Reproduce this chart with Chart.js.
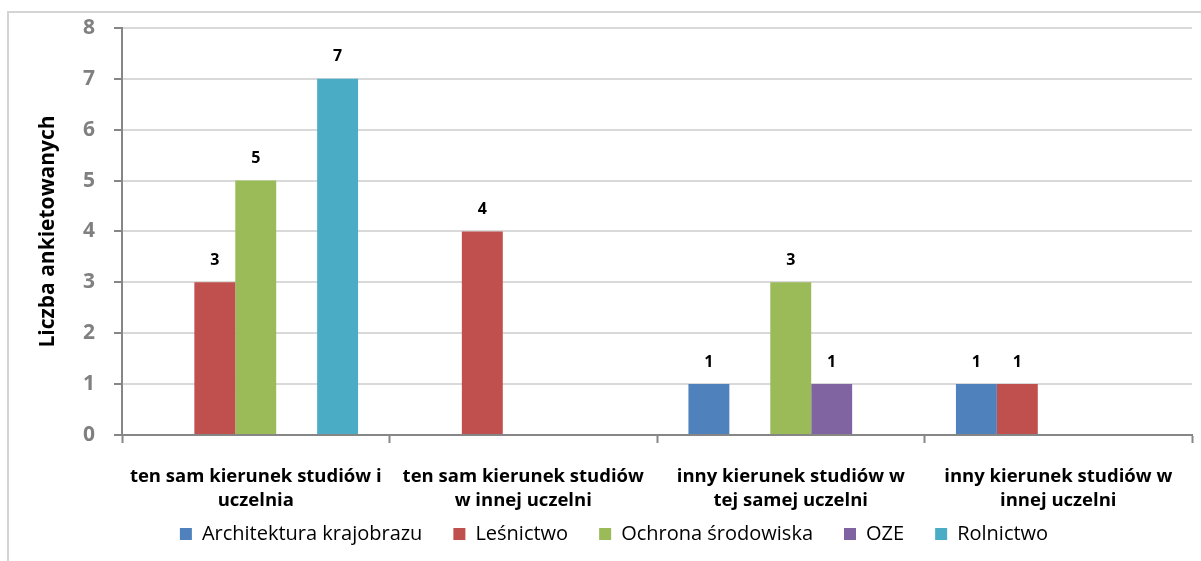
<!DOCTYPE html>
<html>
<head>
<meta charset="utf-8">
<script src="https://cdn.jsdelivr.net/npm/chart.js@4/dist/chart.umd.min.js"></script>
<style>
  html, body { margin: 0; padding: 0; background: #fff; overflow: hidden; }
  #frame { position: absolute; left: 7px; top: 11px; width: 1300px; height: 700px; border: 2px solid #d4d4d4; }
  #wrap { position: absolute; left: 0; top: 0; width: 1201px; height: 561px; }
</style>
</head>
<body>
<div id="frame"></div>
<div id="wrap"><canvas id="chart" width="1201" height="561"></canvas></div>
<script>
const categories = [
    ['ten sam kierunek studiów i', 'uczelnia'],
    ['ten sam kierunek studiów', 'w innej uczelni'],
    ['inny kierunek studiów w', 'tej samej uczelni'],
    ['inny kierunek studiów w', 'innej uczelni']
];
const architektura = [0, 0, 1, 1];
const lesnictwo = [3, 4, 0, 1];
const ochrona = [5, 0, 3, 0];
const oze = [0, 0, 1, 0];
const rolnictwo = [7, 0, 0, 0];
const yTicks = [0, 1, 2, 3, 4, 5, 6, 7, 8];

const font = "'Open Sans', sans-serif";

// labels above the bars, skipping zeros
const barLabels = {
    id: 'barLabels',
    afterDatasetsDraw(chart) {
        const ctx = chart.ctx;
        ctx.save();
        ctx.font = 'bold 16px ' + font;
        ctx.fillStyle = '#000';
        ctx.textAlign = 'center';
        ctx.textBaseline = 'middle';
        chart.data.datasets.forEach((ds, i) => {
            chart.getDatasetMeta(i).data.forEach((bar, j) => {
                if (ds.data[j] > 0) ctx.fillText(ds.data[j], bar.x, bar.y - 22);
            });
        });
        ctx.restore();
    }
};

// legend in the original sits a bit right of centre and tucks under the axis labels
const legendShift = {
    id: 'legendShift',
    afterLayout(chart) {
        const lg = chart.legend;
        lg.left += 18;
        lg.right += 18;
        lg.top -= 22;
        lg.bottom -= 22;
    }
};

new Chart(document.getElementById('chart'), {
    type: 'bar',
    data: {
        labels: categories,
        datasets: [
            { label: 'Architektura krajobrazu', data: architektura, backgroundColor: '#4F81BD' },
            { label: 'Leśnictwo', data: lesnictwo, backgroundColor: '#C0504D' },
            { label: 'Ochrona środowiska', data: ochrona, backgroundColor: '#9BBB59' },
            { label: 'OZE', data: oze, backgroundColor: '#8064A2' },
            { label: 'Rolnictwo', data: rolnictwo, backgroundColor: '#4BACC6' }
        ]
    },
    options: {
        responsive: false,
        animation: false,
        layout: { padding: { top: 20, right: 9, bottom: -15, left: 0 } },
        datasets: { bar: { categoryPercentage: 0.765, barPercentage: 1, borderWidth: 0 } },
        plugins: {
            tooltip: { enabled: false },
            legend: {
                position: 'bottom',
                labels: {
                    color: '#000',
                    font: { family: font, size: 20 },
                    boxWidth: 12,
                    boxHeight: 12,
                    padding: 31
                }
            }
        },
        scales: {
            x: {
                afterFit(scale) { scale.height = 80; },
                border: { color: '#868686', width: 2 },
                grid: { drawOnChartArea: false, drawTicks: true, tickLength: 8, tickColor: '#868686', tickWidth: 2 },
                ticks: {
                    color: '#000',
                    font: { family: font, size: 18.5, weight: 'bold', lineHeight: 1.27 },
                    padding: 22,
                    maxRotation: 0
                }
            },
            y: {
                min: 0,
                max: 8,
                afterFit(scale) { scale.width = 122; },
                afterBuildTicks(scale) { scale.ticks = yTicks.map(v => ({ value: v })); },
                border: { color: '#868686', width: 2 },
                grid: { color: '#d9d9d9', lineWidth: 2, tickLength: 8, tickColor: '#868686', tickWidth: 2 },
                ticks: {
                    color: '#808080',
                    font: { family: font, size: 21, weight: 'bold', lineHeight: 0.85 },
                    padding: 19
                },
                title: {
                    display: true,
                    text: 'Liczba ankietowanych',
                    color: '#000',
                    font: { family: font, size: 21, weight: 'bold' },
                    padding: { top: 35, bottom: 0 }
                }
            }
        }
    },
    plugins: [barLabels, legendShift]
});
</script>
</body>
</html>
